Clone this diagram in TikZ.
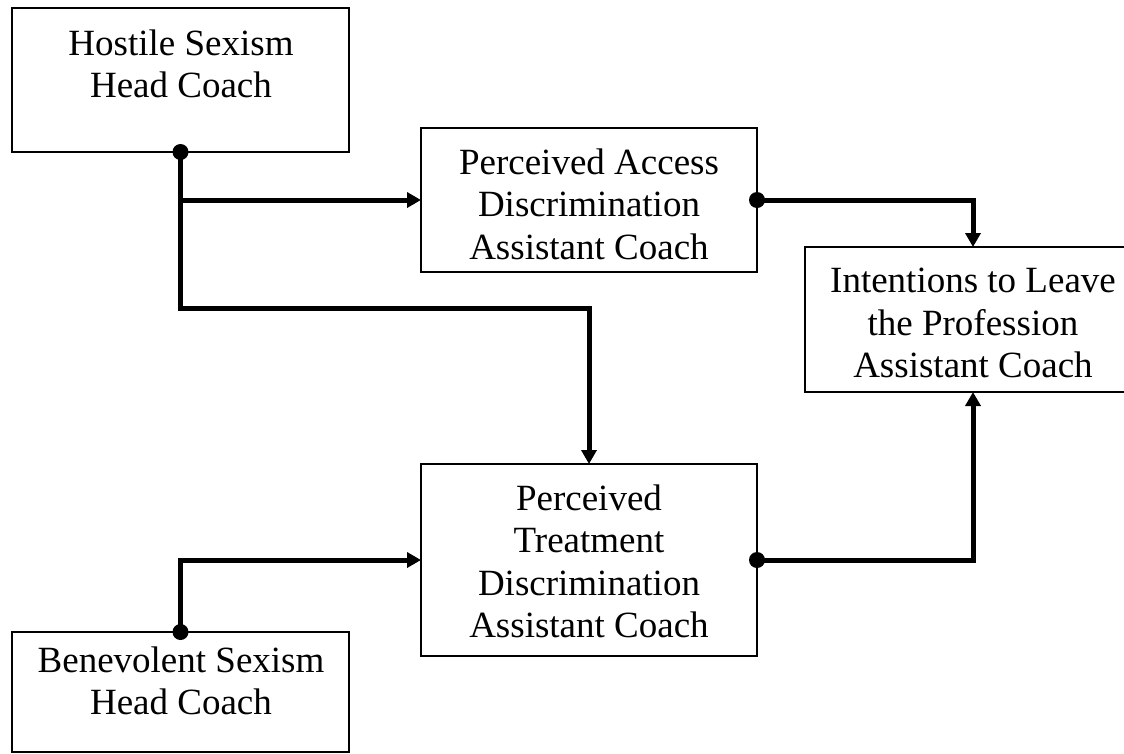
\documentclass[tikz,border=0pt]{standalone}
\usepackage{fontspec}
\setmainfont{Liberation Serif}
\usetikzlibrary{arrows.meta}
\begin{document}
\begin{tikzpicture}[x=1pt,y=-1pt,
  box/.style={draw, line width=1.5pt, inner sep=0pt, outer sep=0pt},
  txt/.style={align=center, inner sep=0pt, font=\fontsize{37}{42.5}\selectfont},
  conn/.style={line width=5pt, line join=miter, -{Triangle[length=14pt,width=15pt]}},
  dotmark/.style={fill=black}]
\useasboundingbox[clip] (0,0) rectangle (1124,753);
% boxes
\node[box, minimum width=337pt, minimum height=144pt] (box1) at (180.5,80) {};
\node[txt] (t1) at (181,64) {Hostile Sexism\\Head Coach};
\node[box, minimum width=336pt, minimum height=144pt] (box2) at (589,200) {};
\node[txt] (t2) at (589,204) {Perceived Access\\Discrimination\\Assistant Coach};
\node[box, minimum width=336pt, minimum height=145pt] (box3) at (973,319.5) {};
\node[txt] (t3) at (973,323) {Intentions to Leave\\the Profession\\Assistant Coach};
\node[box, minimum width=336pt, minimum height=192pt] (box4) at (589,560) {};
\node[txt] (t4) at (589,561.5) {Perceived\\Treatment\\Discrimination\\Assistant Coach};
\node[box, minimum width=337pt, minimum height=120pt] (box5) at (180.5,692) {};
\node[txt] (t5) at (181,681) {Benevolent Sexism\\Head Coach};
% connectors
\coordinate (bend1) at (181,308);
\draw[conn] (box1.south) -- (box1.south |- bend1) -| (box4.north);
\draw[conn] (box1.south |- box2.west) -- (box2.west);
\draw[conn] (box2.east) -| (box3.north);
\draw[conn] (box4.east) -| (box3.south);
\draw[conn] (box5.north) |- (box4.west);
% dots
\fill[dotmark] (box1.south) circle[radius=8pt];
\fill[dotmark] (box2.east) circle[radius=8pt];
\fill[dotmark] (box4.east) circle[radius=8pt];
\fill[dotmark] (box5.north) circle[radius=8pt];
\end{tikzpicture}
\end{document}
